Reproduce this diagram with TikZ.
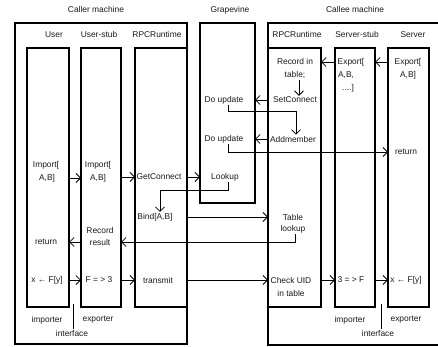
\documentclass[tikz,border=0pt]{standalone}
\usepackage{fontspec}
\setmainfont{Liberation Sans}
\usetikzlibrary{arrows.meta}
\begin{document}
\begin{tikzpicture}[x=1pt,y=-1pt,
  box/.style={draw,line width=1.2pt,anchor=north west,inner sep=0pt,outer sep=0pt,minimum height=259pt},
  outerbox/.style={draw,line width=1.7pt,anchor=north west,inner sep=0pt,outer sep=0pt},
  lbl/.style={font=\fontsize{8.4}{10}\selectfont,inner sep=1pt,text=black!90},
  arr/.style={line width=0.8pt,-{Straight Barb[length=4.5pt,width=9pt]}},
  ln/.style={line width=0.8pt}]
\useasboundingbox (0,0) rectangle (438,347);
% ---- boxes ----
\node[outerbox,minimum width=172pt,minimum height=321pt] (caller) at (15,23) {};
\node[box,minimum width=42pt] (ubox) at (27,48) {};
\node[box,minimum width=40pt] (sbox) at (81,48) {};
\node[box,minimum width=52pt] (rbox) at (135,48) {};
\node[outerbox,minimum width=55pt,minimum height=180pt] (gbox) at (200,23) {};
\draw[line width=1.7pt] (446,23) -- (268,23) -- (268,345) -- (446,345);
\node[box,minimum width=53pt] (crbox) at (268,48) {};
\node[box,minimum width=40pt] (ssbox) at (335,48) {};
\node[box,minimum width=41pt] (svbox) at (388,48) {};
% ---- titles ----
\node[lbl] (tcaller) at (96,10) {Caller machine};
\node[lbl] (tgrape) at (230,10) {Grapevine};
\node[lbl] (tcallee) at (355,10) {Callee machine};
\node[lbl] (tuser) at (54,35) {User};
\node[lbl] (tustub) at (99,35) {User-stub};
\node[lbl] (trpc1) at (157,35) {RPCRuntime};
\node[lbl] (trpc2) at (297,35) {RPCRuntime};
\node[lbl] (tsstub) at (357,35) {Server-stub};
\node[lbl] (tserver) at (413,35) {Server};
% ---- User ----
\node[lbl] (uimpA) at (46,165) {Import[};
\node[lbl] (uimpB) at (47,178) {A,B]};
\node[lbl] (uret) at (46,242) {return};
\node[lbl] (ux) at (47,280) {x ← F[y]};
% ---- User-stub ----
\node[lbl] (simpA) at (98,165) {Import[};
\node[lbl] (simpB) at (98,178) {A,B]};
\node[lbl] (srec) at (100,230) {Record};
\node[lbl] (sres) at (100,242) {result};
\node[lbl] (sf) at (99,280) {F = > 3};
% ---- caller RPCRuntime ----
\node[lbl] (getc) at (159,177) {GetConnect};
\node[lbl] (bind) at (155,217) {Bind[A,B]};
\node[lbl] (trans) at (158,280) {transmit};
% ---- Grapevine ----
\node[lbl] (du1) at (224,100) {Do update};
\node[lbl] (du2) at (224,139) {Do update};
\node[lbl] (look) at (225,177) {Lookup};
% ---- callee RPCRuntime ----
\node[lbl] (rec1) at (295,62) {Record in};
\node[lbl] (rec2) at (295,75) {table;};
\node[lbl] (setc) at (295,100) {SetConnect};
\node[lbl] (addm) at (293,139) {Addmember};
\node[lbl] (tab1) at (293,217) {Table};
\node[lbl] (tab2) at (293,229) {lookup};
\node[lbl] (chk1) at (291,280) {Check UID};
\node[lbl] (chk2) at (291,293) {in table};
% ---- Server-stub ----
\node[lbl] (sexA) at (351,62) {Export[};
\node[lbl] (sexB) at (346,75) {A,B,};
\node[lbl] (sexC) at (348,88) {....]};
\node[lbl] (s3f) at (351,280) {3 = > F};
% ---- Server ----
\node[lbl] (vexA) at (408,62) {Export[};
\node[lbl] (vexB) at (408,75) {A,B]};
\node[lbl] (vret) at (406,152) {return};
\node[lbl] (vx) at (406,280) {x ← F[y]};
% ---- interfaces ----
\node[lbl] (imp1) at (47,320) {importer};
\node[lbl] (exp1) at (98,320) {exporter};
\node[lbl] (int1) at (72,333) {interface};
\coordinate (if1) at (73,304);
\draw[ln] (if1) -- (int1.north -| if1);
\node[lbl] (imp2) at (350,320) {importer};
\node[lbl] (exp2) at (406,320) {exporter};
\node[lbl] (int2) at (378,333) {interface};
\coordinate (if2) at (381,304);
\draw[ln] (if2) -- (int2.north -| if2);
% ---- connectors: import ----
\draw[arr] (ubox.east |- uimpB) -- (sbox.west |- uimpB);
\draw[arr] (sbox.east |- getc) -- (rbox.west |- getc);
\draw[arr] (rbox.east |- getc) -- (gbox.west |- getc);
\draw[arr] ([xshift=3pt]look.south) -- ++(0,8) -| ([xshift=5pt]bind.north);
\draw[arr] (rbox.east |- bind) -- (crbox.west |- bind);
\draw[arr] ([xshift=2pt]tab2.south) |- (sbox.east |- sres);
\draw[arr] (sbox.west |- sres) -- (ubox.east |- sres);
% ---- connectors: call ----
\draw[arr] (ubox.east |- ux) -- (sbox.west |- ux);
\draw[arr] (sbox.east |- ux) -- (rbox.west |- ux);
\draw[arr] (rbox.east |- ux) -- (crbox.west |- ux);
\draw[arr] (crbox.east |- ux) -- (ssbox.west |- ux);
\draw[arr] (ssbox.east |- ux) -- (svbox.west |- ux);
% ---- connectors: export ----
\draw[arr] (svbox.west |- vexA) -- (ssbox.east |- vexA);
\draw[arr] (ssbox.west |- sexA) -- (crbox.east |- sexA);
\draw[arr] ([xshift=4pt]rec2.south) -- ([xshift=4pt]setc.north);
\draw[arr] (crbox.west |- setc) -- (gbox.east |- setc);
\draw[arr] ([xshift=4pt]du1.south) -- ++(0,6) -| ([xshift=3pt]addm.north);
\draw[arr] (crbox.west |- addm) -- (gbox.east |- addm);
\draw[arr] ([xshift=4pt]du2.south) |- (svbox.west |- vret);
\end{tikzpicture}
\end{document}
